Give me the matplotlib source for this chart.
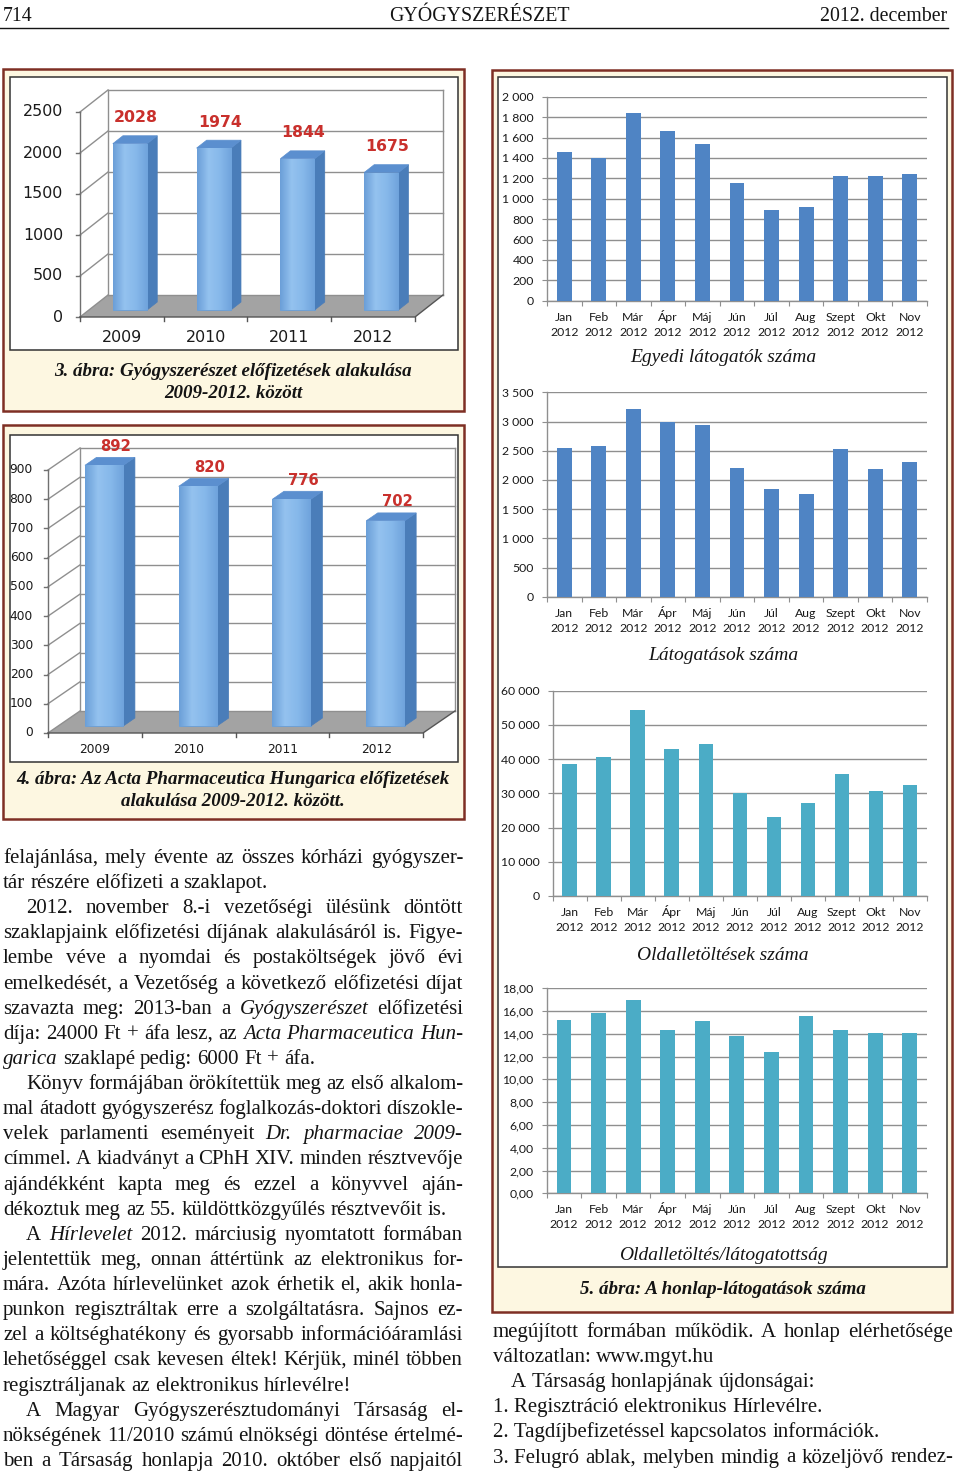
import numpy as np
import matplotlib
matplotlib.use('Agg')
import matplotlib.pyplot as plt
from matplotlib.patches import Rectangle, Polygon
from matplotlib.colors import LinearSegmentedColormap
from matplotlib.ticker import FuncFormatter, FixedLocator

# values
years = ['2009', '2010', '2011', '2012']
gyogy_subs = [2028, 1974, 1844, 1675]
acta_subs = [892, 820, 776, 702]

months = ['Jan', 'Feb', 'Már', 'Ápr', 'Máj', 'Jún', 'Júl', 'Aug', 'Szept', 'Okt', 'Nov']
unique_visitors = [1460, 1400, 1845, 1665, 1540, 1155, 890, 915, 1225, 1225, 1240]
visits = [2540, 2580, 3215, 2985, 2940, 2200, 1840, 1760, 2525, 2180, 2305]
page_loads = [38600, 40700, 54500, 43000, 44400, 30200, 23200, 27100, 35600, 30800, 32500]
loads_per_visit = [15.2, 15.8, 17.0, 14.35, 15.1, 13.8, 12.45, 15.6, 14.3, 14.05, 14.05]

# body text of the page: (indent, justified, line); _word_ = italic
left_lines = [
    (0, 1, "felajánlása, mely évente az összes kórházi gyógyszer-"),
    (0, 0, "tár részére előfizeti a szaklapot."),
    (1, 1, "2012. november 8.-i vezetőségi ülésünk döntött"),
    (0, 1, "szaklapjaink előfizetési díjának alakulásáról is. Figye-"),
    (0, 1, "lembe véve a nyomdai és postaköltségek jövő évi"),
    (0, 1, "emelkedését, a Vezetőség a következő előfizetési díjat"),
    (0, 1, "szavazta meg: 2013-ban a _Gyógyszerészet_ előfizetési"),
    (0, 1, "díja: 24000 Ft + áfa lesz, az _Acta_ _Pharmaceutica_ _Hun-_"),
    (0, 0, "_garica_ szaklapé pedig: 6000 Ft + áfa."),
    (1, 1, "Könyv formájában örökítettük meg az első alkalom-"),
    (0, 1, "mal átadott gyógyszerész foglalkozás-doktori díszokle-"),
    (0, 1, "velek parlamenti eseményeit _Dr._ _pharmaciae_ _2009-_"),
    (0, 1, "címmel. A kiadványt a CPhH XIV. minden résztvevője"),
    (0, 1, "ajándékként kapta meg és ezzel a könyvvel aján-"),
    (0, 0, "dékoztuk meg az 55. küldöttközgyűlés résztvevőit is."),
    (1, 1, "A _Hírlevelet_ 2012. márciusig nyomtatott formában"),
    (0, 1, "jelentettük meg, onnan áttértünk az elektronikus for-"),
    (0, 1, "mára. Azóta hírlevelünket azok érhetik el, akik honla-"),
    (0, 1, "punkon regisztráltak erre a szolgáltatásra. Sajnos ez-"),
    (0, 1, "zel a költséghatékony és gyorsabb információáramlási"),
    (0, 1, "lehetőséggel csak kevesen éltek! Kérjük, minél többen"),
    (0, 0, "regisztráljanak az elektronikus hírlevélre!"),
    (1, 1, "A Magyar Gyógyszerésztudományi Társaság el-"),
    (0, 1, "nökségének 11/2010 számú elnökségi döntése értelmé-"),
    (0, 1, "ben a Társaság honlapja 2010. október első napjaitól"),
]
right_lines = [
    (0, 1, "megújított formában működik. A honlap elérhetősége"),
    (0, 0, "változatlan: www.mgyt.hu"),
    (1, 0, "A Társaság honlapjának újdonságai:"),
    (0, 0, "1.\u00a0Regisztráció elektronikus Hírlevélre."),
    (0, 0, "2.\u00a0Tagdíjbefizetéssel kapcsolatos információk."),
    (0, 1, "3.\u00a0Felugró ablak, melyben mindig a közeljövő rendez-"),
]

W, H = 960, 1473
SERIF = 'Liberation Serif'
CHART_FONT = 'Lato'
FRAME_RED = '#7e2f24'
CREAM = '#fdf7e1'
GRID = '#8f8f8f'
INK = '#141414'
BAR_FACE = LinearSegmentedColormap.from_list('face', ['#6b9fd8', '#94c2ef', '#86b8ea', '#6fa3dc'])

fig = plt.figure(figsize=(W / 100, H / 100), dpi=100)
page = fig.add_axes([0, 0, 1, 1])
page.set_xlim(0, W)
page.set_ylim(H, 0)
page.axis('off')


def px_axes(left, top, right, bottom):
    ax = fig.add_axes([left / W, 1 - bottom / H, (right - left) / W, (bottom - top) / H])
    ax.patch.set_alpha(0)
    return ax


def frame_box(outer, inner):
    x0, y0, x1, y1 = outer
    page.add_patch(Rectangle((x0, y0), x1 - x0, y1 - y0, fc=CREAM, ec=FRAME_RED, lw=1.8))
    x0, y0, x1, y1 = inner
    page.add_patch(Rectangle((x0, y0), x1 - x0, y1 - y0, fc='white', ec='#333333', lw=1.1))


# header
page.text(3, 21, '714', family=SERIF, fontsize=14.3, color=INK)
page.text(479, 21, 'GYÓGYSZERÉSZET', family=SERIF, fontsize=14.3, color=INK, ha='center')
page.text(947, 21, '2012. december', family=SERIF, fontsize=14.3, color=INK, ha='right')
page.plot([0, 948], [27.5, 27.5], color=INK, lw=1.0)

frame_box((3, 69, 464, 411), (10, 77, 458, 350))
frame_box((3, 425, 464, 819), (10, 435, 458, 762))
frame_box((492, 70, 952, 1312), (498, 77, 947, 1267))


def bar3d(vals, labels, ymax, step, front, right, zero_y, top_y, depth,
          tick_fs, lab_fs, val_fs, tick_gap, lab_gap, val_dx, val_dy):
    n = len(vals)
    ax = px_axes(front, top_y, right, zero_y)
    px_x = n / (right - front)          # data units per pixel
    px_y = ymax / (zero_y - top_y)
    dx = depth[0] * px_x
    dy = depth[1] * px_y
    kw = dict(clip_on=False)
    # floor and back wall
    ax.add_patch(Polygon([(0, 0), (n, 0), (n + dx, dy), (dx, dy)], fc='#a3a3a3', ec='none', zorder=1, **kw))
    ax.add_patch(Polygon([(dx, dy), (n + dx, dy), (n + dx, ymax + dy), (dx, ymax + dy)],
                         fc='white', ec='none', zorder=1, **kw))
    ticks = np.arange(0, ymax + step / 2, step)
    for v in ticks:
        ax.plot([dx, n + dx], [v + dy, v + dy], color=GRID, lw=1.0, zorder=2, **kw)
        ax.plot([0, dx], [v, v + dy], color=GRID, lw=1.0, zorder=2, **kw)
        ax.plot([-4 * px_x, 0], [v, v], color='#707070', lw=1.0, zorder=2, **kw)
        ax.text(-tick_gap * px_x, v, str(int(v)), ha='right', va='center',
                fontsize=tick_fs, color='#1a1a1a', **kw)
    ax.plot([dx, dx], [dy, ymax + dy], color=GRID, lw=1.0, zorder=2, **kw)
    ax.plot([n + dx, n + dx], [dy, ymax + dy], color=GRID, lw=1.0, zorder=2, **kw)
    ax.plot([0, 0], [0, ymax], color='#707070', lw=1.0, zorder=2, **kw)
    ax.plot([0, n, n + dx], [0, 0, dy], color='#555555', lw=1.0, zorder=2, **kw)
    for i in range(n + 1):
        ax.plot([i, i], [0, -4 * px_y], color='#555555', lw=1.0, zorder=2, **kw)
    # bars: front faces from ax.bar, shaded with a horizontal gradient
    f0, f1, bw = 0.32, 0.68, 0.41
    xs = np.arange(n) + 0.49 + f0 * dx
    bars = ax.bar(xs, vals, width=bw, bottom=f0 * dy, color='#7cb1e6', edgecolor='#6a9fd6',
                  lw=0.6, zorder=4, **kw)
    grad = np.linspace(0, 1, 64).reshape(1, -1)
    ddx, ddy = (f1 - f0) * dx, (f1 - f0) * dy
    for rect, xc, v in zip(bars, xs, vals):
        xl, xr = xc - bw / 2, xc + bw / 2
        yb, yt = f0 * dy, v + f0 * dy
        im = ax.imshow(grad, cmap=BAR_FACE, extent=(xl, xr, yb, yt), aspect='auto',
                       origin='lower', zorder=4.5, interpolation='bilinear')
        im.set_clip_path(rect)
        ax.add_patch(Polygon([(xr, yb), (xr + ddx, yb + ddy), (xr + ddx, yt + ddy), (xr, yt)],
                             fc='#4a7db9', ec='#4a7db9', lw=0.5, zorder=4, **kw))
        ax.add_patch(Polygon([(xl, yt), (xr, yt), (xr + ddx, yt + ddy), (xl + ddx, yt + ddy)],
                             fc='#5b8fcf', ec='#5b8fcf', lw=0.5, zorder=4, **kw))
    for i, (lab, v) in enumerate(zip(labels, vals)):
        ax.text(i + 0.5, -lab_gap * px_y, lab, ha='center', va='center',
                fontsize=lab_fs, color='#1a1a1a', **kw)
        ax.text(i + 0.5 + val_dx * px_x, v + f0 * dy + val_dy * px_y, str(v), ha='center',
                va='center', fontsize=val_fs, fontweight='bold', color='#c9302c', **kw)
    ax.set_xlim(0, n)
    ax.set_ylim(0, ymax)
    ax.axis('off')
    return ax


bar3d(gyogy_subs, years, 2500, 500, 80, 415, 317, 112, (28, 22),
      11.4, 11.4, 11.3, 17, 21, 14, 26)
bar3d(acta_subs, years, 900, 100, 48, 423, 733, 470, (32, 22),
      8.8, 8.8, 10.6, 15, 17, 21, 19)


def thousands(v, _):
    return f'{int(round(v)):,}'.replace(',', ' ')


def decimal2(v, _):
    return f'{v:.2f}'.replace('.', ',')


def bar2d(vals, ymax, step, fmt, color, left, top, right, bottom, title, title_y):
    ax = px_axes(left, top, right, bottom)
    n = len(vals)
    x = np.arange(n)
    ax.bar(x, vals, width=0.43, color=color, zorder=3)
    ax.set_xlim(-0.5, n - 0.5)
    ax.set_ylim(0, ymax)
    ax.yaxis.set_major_locator(FixedLocator(np.arange(0, ymax + step / 2, step)))
    ax.yaxis.set_major_formatter(FuncFormatter(fmt))
    ax.grid(axis='y', color=GRID, lw=1.0)
    ax.set_axisbelow(True)
    for s in ['top', 'right']:
        ax.spines[s].set_visible(False)
    for s in ['left', 'bottom']:
        ax.spines[s].set_color(GRID)
        ax.spines[s].set_linewidth(1.0)
    ax.set_xticks(np.arange(-0.5, n, 1))
    ax.set_xticklabels([])
    ax.tick_params(axis='x', which='major', length=3.5, color=GRID)
    ax.tick_params(axis='y', length=3.5, color=GRID, pad=6, labelsize=8.8, labelcolor='#1a1a1a')
    for lab in ax.get_yticklabels():
        lab.set_family(CHART_FONT)
    # two-line month labels, aligned on their baselines
    xtr = ax.get_xaxis_transform()
    for xi, m in zip(x, months):
        for txt, off in ((m, -20), ('2012', -35)):
            ax.annotate(txt, (xi, 0), xycoords=xtr, xytext=(0, off * 0.72),
                        textcoords='offset points', ha='center', va='baseline',
                        family=CHART_FONT, fontsize=8.8, color='#1a1a1a', annotation_clip=False)
    page.text(723, title_y, title, family=SERIF, style='italic', fontsize=14,
              ha='center', va='center', color=INK)
    return ax


bar2d(unique_visitors, 2000, 200, thousands, '#4f84c4', 547, 96.7, 927, 300.7,
      'Egyedi látogatók száma', 357)
bar2d(visits, 3500, 500, thousands, '#4f84c4', 547, 392.3, 927, 596.7,
      'Látogatások száma', 656)
bar2d(page_loads, 60000, 10000, thousands, '#4bacc6', 552.7, 690.7, 927, 896,
      'Oldalletöltések száma', 956)
bar2d(loads_per_visit, 18, 2, decimal2, '#4bacc6', 546.7, 988.3, 927, 1193.3,
      'Oldalletöltés/látogatottság', 1255)

# captions
cap = dict(family=SERIF, style='italic', fontweight='bold', fontsize=13.7, ha='center',
           va='center', color=INK)
page.text(233, 371, '3. ábra: Gyógyszerészet előfizetések alakulása', **cap)
page.text(233, 394, '2009-2012. között', **cap)
page.text(233, 780, '4. ábra: Az Acta Pharmaceutica Hungarica előfizetések', **cap)
page.text(233, 802, 'alakulása 2009-2012. között.', **cap)
page.text(723, 1289, '5. ábra: A honlap-látogatások száma', **cap)

# body text, justified word by word
BODY_FS = 15
renderer = fig.canvas.get_renderer()


def set_lines(lines, x0, x1, base0, step, indent_px):
    space = BODY_FS * 100 / 72 * 0.25
    for k, (indent, justify, line) in enumerate(lines):
        y = base0 + k * step
        objs = []
        for w in line.split(' '):
            italic = len(w) > 2 and w.startswith('_') and w.endswith('_')
            objs.append(page.text(0, y, w.strip('_') if italic else w, family=SERIF,
                                  style='italic' if italic else 'normal',
                                  fontsize=BODY_FS, color=INK, va='baseline'))
        widths = [t.get_window_extent(renderer).width for t in objs]
        start = x0 + (indent_px if indent else 0)
        gap = space
        if justify and len(objs) > 1:
            gap = (x1 - start - sum(widths)) / (len(objs) - 1)
        x = start
        for t, w in zip(objs, widths):
            t.set_x(x)
            x += w + gap


set_lines(left_lines, 3, 463, 863, 25.12, 23)
set_lines(right_lines, 493, 953, 1337, 25.1, 18)

fig.savefig('out.png', dpi=100)
